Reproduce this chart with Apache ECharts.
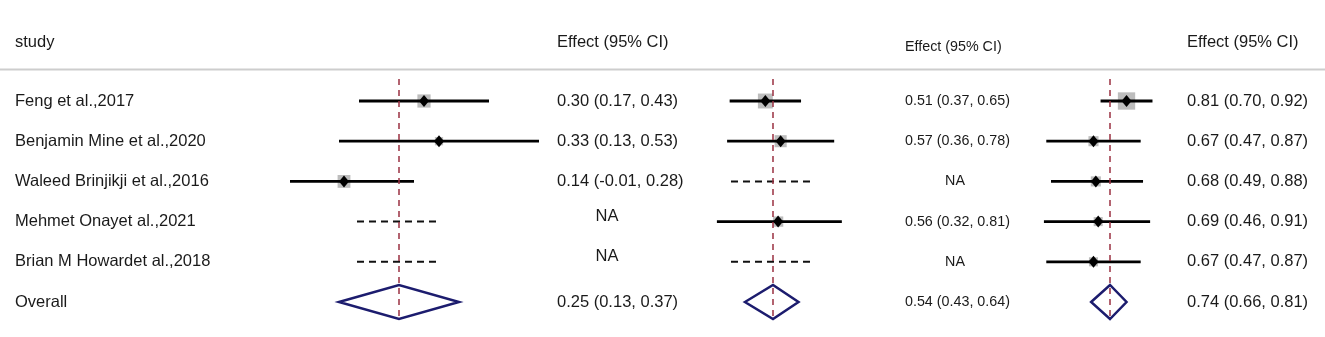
<!DOCTYPE html>
<html>
<head>
<meta charset="utf-8">
<script src="https://cdn.jsdelivr.net/npm/echarts@6/dist/echarts.min.js"></script>
<style>
  html, body { margin: 0; padding: 0; background: #fff; }
  #forest { width: 1325px; height: 337px; }
</style>
</head>
<body>
<div id="forest"></div>
<script>
  // studies (last row is the pooled estimate)
  var studies = ['Feng et al.,2017', 'Benjamin Mine et al.,2020', 'Waleed Brinjikji et al.,2016',
                 'Mehmet Onayet al.,2021', 'Brian M Howardet al.,2018', 'Overall'];

  // panel 1
  var p1Est  = [0.30, 0.33, 0.14, null, null];
  var p1Low  = [0.17, 0.13, -0.01, null, null];
  var p1High = [0.43, 0.53, 0.28, null, null];
  var p1Weight = [36, 14, 34, null, null];
  var p1Overall = [0.25, 0.13, 0.37];

  // panel 2
  var p2Est  = [0.51, 0.57, null, 0.56, null];
  var p2Low  = [0.37, 0.36, null, 0.32, null];
  var p2High = [0.65, 0.78, null, 0.81, null];
  var p2Weight = [46, 30, null, 22, null];
  var p2Overall = [0.54, 0.43, 0.64];

  // panel 3
  var p3Est  = [0.81, 0.67, 0.68, 0.69, 0.67];
  var p3Low  = [0.70, 0.47, 0.49, 0.46, 0.47];
  var p3High = [0.92, 0.87, 0.88, 0.91, 0.87];
  var p3Weight = [62, 21, 21, 17, 17];
  var p3Overall = [0.74, 0.66, 0.81];

  var FONT = '"Liberation Sans", Arial, sans-serif';
  var TXT = '#1a1a1a';

  // layout of each panel (plot area + text column)
  var panels = [
    {est: p1Est, low: p1Low, high: p1High, wt: p1Weight, overall: p1Overall,
     left: 290, width: 260, min: 0.032, max: 0.552, textX: 557, naX: 607, naDy: -5, fontSize: 16.5, labels: true},
    {est: p2Est, low: p2Low, high: p2High, wt: p2Weight, overall: p2Overall,
     left: 680, width: 180, min: 0.1753, max: 0.8812, textX: 905, naX: 955, naDy: 0, fontSize: 14.3, labels: false},
    {est: p3Est, low: p3Low, high: p3High, wt: p3Weight, overall: p3Overall,
     left: 1030, width: 150, min: 0.401, max: 1.0366, textX: 1187, naX: 1240, naDy: 0, fontSize: 16.5, labels: false}
  ];

  function fmt(e, l, h) {
    return e.toFixed(2) + ' (' + l.toFixed(2) + ', ' + h.toFixed(2) + ')';
  }

  function makeRender(pn) {
    return function (params, api) {
      var i = api.value(0);
      var cs = params.coordSys;
      var y = api.coord([pn.overall[0], i])[1];
      var px = function (v) {
        var x = api.coord([v, i])[0];
        return Math.max(cs.x, Math.min(cs.x + cs.width, x));
      };
      var kids = [];
      var txt = function (t, x, dy, align) {
        return {type: 'text', x: x, y: y + (dy || 0),
          style: {text: t, fill: TXT, font: pn.fontSize + 'px ' + FONT, align: align || 'left', verticalAlign: 'middle'}};
      };
      if (pn.labels) {
        kids.push({type: 'text', x: 15, y: y,
          style: {text: studies[i], fill: TXT, font: '16.5px ' + FONT, verticalAlign: 'middle'}});
      }
      if (i === studies.length - 1) {
        var o = pn.overall;
        var l = px(o[1]), c = px(o[0]), r = px(o[2]);
        kids.push({type: 'polygon', shape: {points: [[l, y], [c, y - 17], [r, y], [c, y + 17]]},
          style: {fill: 'rgba(0,0,0,0)', stroke: '#1c1c6e', lineWidth: 2.5}});
        kids.push(txt(fmt(o[0], o[1], o[2]), pn.textX));
      } else if (pn.est[i] == null) {
        var rc = px(pn.overall[0]);
        kids.push({type: 'line', shape: {x1: rc - 42, y1: y, x2: rc + 42, y2: y},
          style: {stroke: '#111', lineWidth: 2, lineDash: [7, 5]}});
        kids.push(txt('NA', pn.naX, pn.naDy, 'center'));
      } else {
        var xl = px(pn.low[i]), xh = px(pn.high[i]), xe = px(pn.est[i]);
        var s = 2.2 * Math.sqrt(pn.wt[i]);
        kids.push({type: 'rect', shape: {x: xe - s / 2, y: y - s / 2, width: s, height: s},
          style: {fill: '#bdbdbd'}});
        kids.push({type: 'line', shape: {x1: xl, y1: y, x2: xh, y2: y},
          style: {stroke: '#000', lineWidth: 2.8}});
        kids.push({type: 'polygon', shape: {points: [[xe - 5, y], [xe, y - 6], [xe + 5, y], [xe, y + 6]]},
          style: {fill: '#000'}});
        kids.push(txt(fmt(pn.est[i], pn.low[i], pn.high[i]), pn.textX));
      }
      return {type: 'group', children: kids};
    };
  }

  // vertical dashed line at the pooled estimate
  function makeRefRender(pn) {
    return function (params, api) {
      var top = api.coord([pn.overall[0], -0.55]);
      var bot = api.coord([pn.overall[0], 5.4]);
      return {type: 'line', shape: {x1: top[0], y1: top[1], x2: bot[0], y2: bot[1]},
        style: {stroke: '#9a3041', lineWidth: 1.5, lineDash: [6, 5]}};
    };
  }

  var rowData = studies.map(function (s, i) { return [i]; });

  var option = {
    animation: false,
    grid: [], xAxis: [], yAxis: [], series: [],
    graphic: [
      {type: 'line', shape: {x1: 0, y1: 69.5, x2: 1325, y2: 69.5}, style: {stroke: '#cdcdcd', lineWidth: 2}},
      {type: 'text', x: 15, y: 42, style: {text: 'study', fill: TXT, font: '16.5px ' + FONT, verticalAlign: 'middle'}},
      {type: 'text', x: 557, y: 42, style: {text: 'Effect (95% CI)', fill: TXT, font: '16.5px ' + FONT, verticalAlign: 'middle'}},
      {type: 'text', x: 905, y: 47, style: {text: 'Effect (95% CI)', fill: TXT, font: '14.3px ' + FONT, verticalAlign: 'middle'}},
      {type: 'text', x: 1187, y: 42, style: {text: 'Effect (95% CI)', fill: TXT, font: '16.5px ' + FONT, verticalAlign: 'middle'}}
    ]
  };

  panels.forEach(function (pn, k) {
    option.grid.push({left: pn.left, width: pn.width, top: 80.9, height: 241.2});
    option.xAxis.push({type: 'value', gridIndex: k, min: pn.min, max: pn.max, show: false});
    option.yAxis.push({type: 'value', gridIndex: k, min: -0.5, max: 5.5, inverse: true, show: false});
    option.series.push({
      type: 'custom',
      xAxisIndex: k,
      yAxisIndex: k,
      data: rowData,
      encode: {y: 0},
      renderItem: makeRender(pn)
    });
    option.series.push({
      type: 'custom',
      xAxisIndex: k,
      yAxisIndex: k,
      data: [[0]],
      encode: {y: 0},
      z: 3,
      renderItem: makeRefRender(pn)
    });
  });

  var chart = echarts.init(document.getElementById('forest'));
  chart.setOption(option);
</script>
</body>
</html>
